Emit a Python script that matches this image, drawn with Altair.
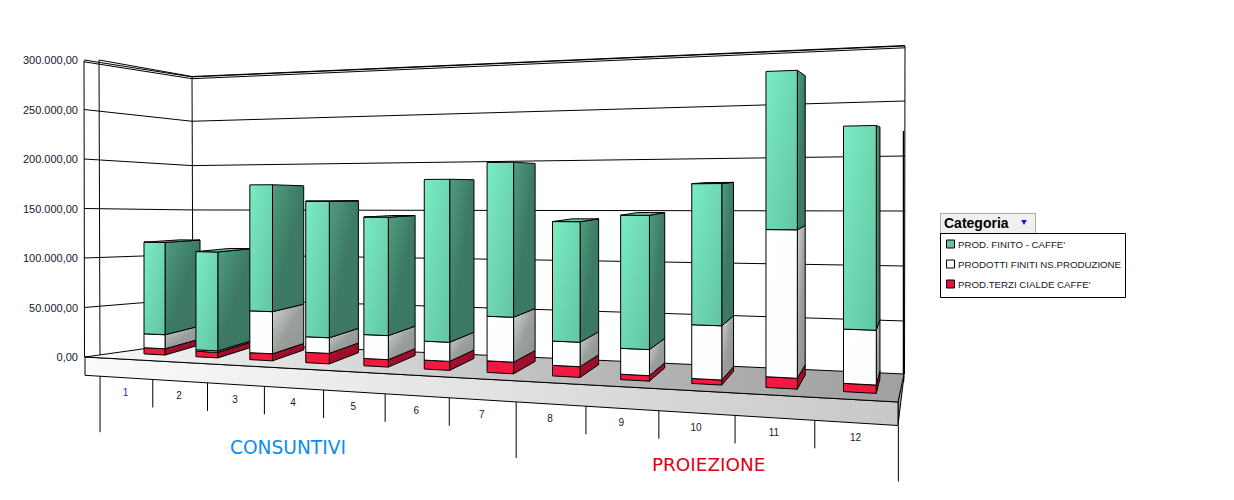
import altair as alt

# ---- values (thousands) ----
MONTHS = ["1", "2", "3", "4", "5", "6", "7", "8", "9", "10", "11", "12"]
TERZI = [6.6, 5.7, 7.1, 10.4, 7.2, 8.6, 10.9, 9.8, 4.9, 4.4, 9.3, 7.0]
PRODOTTI = [14.7, 1.5, 42.6, 15.5, 23.4, 18.2, 42.0, 22.4, 23.4, 47.6, 127.5, 46.0]
FINITO = [96.8, 101.9, 128.3, 135.5, 115.2, 155.5, 144.9, 110.4, 120.4, 124.9, 137.0, 172.0]
TICKS = [50, 100, 150, 200, 250, 300]
TICK_LABELS = ["0,00", "50.000,00", "100.000,00", "150.000,00", "200.000,00", "250.000,00", "300.000,00"]
SERIES = ["PROD. FINITO - CAFFE'", "PRODOTTI FINITI NS.PRODUZIONE", "PROD.TERZI CIALDE CAFFE'"]

# ---- perspective camera ----
def W(s, d):
    return 1 - 0.01805 * s + 0.0469 * d

def proj(s, d, h=0.0):
    w = W(s, d)
    x = (48.6 * s + 154.5 + 44.2 * d) / w
    y = (-3.63 * s + 354.5 + 6.0 * d) / w - h * 0.95 / w * (1 - d * (0.026 - 0.0018 * s))
    return x, y

HALF = 0.205
XS = alt.Scale(domain=[8, 1208], nice=False, zero=False)
YS = alt.Scale(domain=[488, 8], nice=False, zero=False)
EX = alt.X("x:Q", scale=XS, axis=None)
EY = alt.Y("y:Q", scale=YS, axis=None)

def grad(*stops, x2=1, y2=1):
    n = len(stops) - 1
    return alt.Gradient(gradient="linear", x1=0, y1=0, x2=x2, y2=y2,
                        stops=[alt.GradientStop(color=c, offset=i / n) for i, c in enumerate(stops)])

def poly_rows(pts):
    xs = sorted({p[0] for p in pts})
    rows = []
    n = len(pts)
    for x in xs:
        ys = []
        for i in range(n):
            a, b = pts[i], pts[(i + 1) % n]
            lo, hi = min(a[0], b[0]), max(a[0], b[0])
            if lo <= x <= hi:
                if a[0] == b[0]:
                    ys += [a[1], b[1]]
                else:
                    ys.append(a[1] + (b[1] - a[1]) * (x - a[0]) / (b[0] - a[0]))
        rows.append({"x": x, "y": min(ys), "y2": max(ys)})
    return rows

def poly(pts, fill, stroke="#000000", sw=1.0):
    kw = {"stroke": stroke, "strokeWidth": sw} if stroke else {"strokeWidth": 0}
    return alt.Chart(alt.Data(values=poly_rows(pts))).mark_area(fill=fill, **kw).encode(
        x=EX, y=EY, y2=alt.Y2("y2:Q"))

def line(pts, color="#000000", sw=1.0):
    rows = [{"x": p[0], "y": p[1], "o": i} for i, p in enumerate(pts)]
    return alt.Chart(alt.Data(values=rows)).mark_line(color=color, strokeWidth=sw).encode(
        x=EX, y=EY, order="o:Q")

def text(x, y, t, **kw):
    return alt.Chart(alt.Data(values=[{"x": x, "y": y, "t": t}])).mark_text(baseline="middle", **kw).encode(
        x=EX, y=EY, text="t:N")

def rect(x0, y0, x1, y1, fill, stroke=None, sw=1.0):
    kw = {"stroke": stroke, "strokeWidth": sw} if stroke else {}
    return alt.Chart(alt.Data(values=[{"x": x0, "y": y0, "x2": x1, "y2": y1}])).mark_rect(fill=fill, **kw).encode(
        x=EX, y=EY, x2="x2:Q", y2="y2:Q")

layers = []

# ---- walls ----
FL, BL, BR, FR = (85, 357), (192, 342), (904, 374), (898, 402)
def wall(v, bump=0.0):
    return [(84, 357 - 0.99 * v + bump), (192, 343 - 0.887 * v + bump), (905, 376 - 1.1 * v + bump)]

for v in TICKS:
    layers.append(line(wall(v)))
layers.append(line([(99, 60), (192, 76.5), (905, 45.5)]))
layers.append(line(wall(300, 1.8)))
layers.append(line([(84, 61), (84.5, 357)]))
layers.append(line([(99, 60), (100, 358)]))
layers.append(line([(192, 77), (193, 342)]))
layers.append(line([(905, 46), (904.5, 374)]))
layers.append(line([(903.5, 131), (903.5, 382)], sw=1.5))

# ---- floor and slab ----
layers.append(poly([(903, 374), (904, 376), (898, 425), (898, 402)], "#9c9c9c"))
layers.append(poly([(85, 357), (898, 402), (898, 425.5), (85, 375.3)],
                   grad("#fbfbfb", "#e2e2e2", "#c8c8c8", x2=1, y2=0)))
layers.append(poly([FL, BL, BR, FR], grad("#fafafa", "#d8d8d8", "#b4b4b4", "#a0a0a0", x2=1, y2=0)))

# ---- category ticks ----
def slab_y(x):
    return 375.3 + (425.5 - 375.3) * (x - 85) / (898 - 85)

for i in range(13):
    x = proj(i - 0.5, -0.74)[0]
    length = 56 if i in (0, 7, 12) else 28
    y0 = slab_y(x)
    layers.append(line([(x, y0), (x, y0 + length)]))
    if i < 12:
        xn = proj(i + 0.5, -0.74)[0]
        xm = (x + xn) / 2 - 1
        layers.append(text(xm, slab_y(xm) + 15, MONTHS[i], font="Liberation Sans", fontSize=10,
                           align="center", color="#5a1a8c" if i == 0 else "#14182a"))

# ---- value labels ----
for lab, v in zip(TICK_LABELS, [0] + TICKS):
    layers.append(text(78, 358 - 0.99 * v, lab, font="Liberation Sans", fontSize=11, align="right", color="#14182a"))

# ---- bars, back to front ----
GREEN_F = grad("#7aecc2", "#62c4a3")
GREEN_S = grad("#4f9c80", "#3d7a65", "#3c7763")
WHITE_F = grad("#ffffff", "#fbfdfc")
WHITE_S = grad("#d2d6d2", "#9a9f9b", "#8f9490")
RED_F = "#f3183f"
RED_S = grad("#ad1130", "#8e0c28")

for i in range(12):
    l, r = i - HALF, i + HALF
    h0 = 0.0
    for val, f_c, s_c in ((TERZI[i], RED_F, RED_S), (PRODOTTI[i], WHITE_F, WHITE_S), (FINITO[i], GREEN_F, GREEN_S)):
        h1 = h0 + val
        layers.append(poly([proj(r, 0, h1), proj(r, 1, h1), proj(r, 1, h0), proj(r, 0, h0)], s_c))
        layers.append(poly([proj(l, 0, h1), proj(r, 0, h1), proj(r, 0, h0), proj(l, 0, h0)], f_c))
        h0 = h1
    if proj(r, 1, h0)[1] < proj(r, 0, h0)[1]:
        layers.append(poly([proj(l, 0, h0), proj(r, 0, h0), proj(r, 1, h0), proj(l, 1, h0)], "#62c4a3"))

# ---- annotations ----
layers.append(text(230, 447.5, "CONSUNTIVI", font="DejaVu Sans", fontSize=18.6, align="left", color="#0c8cf2"))
layers.append(text(652, 464.5, "PROIEZIONE", font="DejaVu Sans", fontSize=18.4, align="left", color="#e00012"))

# ---- legend box ----
layers.append(rect(940.5, 213.5, 1035.5, 233.5, "#f0f0f0", "#aaaaaa"))
layers.append(text(944, 224, "Categoria", font="Liberation Sans", fontSize=14, fontWeight="bold",
                   align="left", color="#000000"))
layers.append(alt.Chart(alt.Data(values=[{"x": 1024, "y": 222.5}])).mark_point(
    shape="triangle-down", filled=True, size=32, color="#1010e0", opacity=1).encode(x=EX, y=EY))
layers.append(rect(940.5, 233.5, 1125.5, 297.5, "#ffffff", "#000000"))
for nm, yy, c in zip(SERIES, (244, 264, 284), ("#62c4a3", "#f8fffc", "#e8123c")):
    layers.append(rect(946.5, yy - 4, 954.5, yy + 4, c, "#000000"))
    layers.append(text(958, yy + 0.8, nm, font="Liberation Sans", fontSize=9.7, align="left", color="#14182a"))

chart = alt.layer(*layers).properties(
    width=1200, height=480, padding=0, autosize=alt.AutoSizeParams(type="none"),
).configure_view(stroke=None)
chart.save("out.html", embed_options={"renderer": "svg", "actions": False})
